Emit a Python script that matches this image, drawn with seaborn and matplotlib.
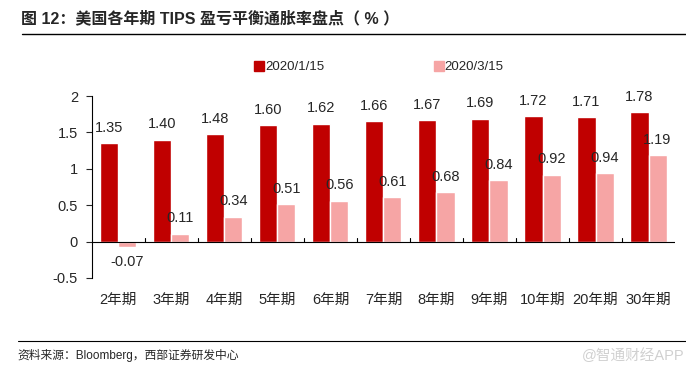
import pandas as pd
import seaborn as sns
import matplotlib.pyplot as plt
from matplotlib.lines import Line2D

# data
terms = ['2年期', '3年期', '4年期', '5年期', '6年期', '7年期', '8年期', '9年期', '10年期', '20年期', '30年期']
jan15 = [1.35, 1.40, 1.48, 1.60, 1.62, 1.66, 1.67, 1.69, 1.72, 1.71, 1.78]
mar15 = [-0.07, 0.11, 0.34, 0.51, 0.56, 0.61, 0.68, 0.84, 0.92, 0.94, 1.19]
series = ['2020/1/15', '2020/3/15']

df = pd.DataFrame({
    'term': terms * 2,
    'value': jan15 + mar15,
    'date': [series[0]] * len(terms) + [series[1]] * len(terms),
})

sns.set_style('white')
plt.rcParams['font.family'] = ['Liberation Sans', 'Noto Sans CJK SC', 'DejaVu Sans']
plt.rcParams['axes.unicode_minus'] = False

fig = plt.figure(figsize=(6.86, 3.77), dpi=100)
ax = fig.add_axes([0.134, 0.263, 0.850, 0.482])

sns.barplot(data=df, x='term', y='value', hue='date', order=terms,
            palette=['#C00000', '#F6A5A5'], width=0.68, saturation=1,
            ax=ax, legend=False)

ax.set_xlim(-0.5, len(terms) - 0.5)
ax.set_ylim(-0.5, 2)
ax.set_yticks([-0.5, 0, 0.5, 1, 1.5, 2])
ax.set_yticklabels(['-0.5', '0', '0.5', '1', '1.5', '2'])
ax.set_xlabel('')
ax.set_ylabel('')
for s in ['top', 'right', 'bottom']:
    ax.spines[s].set_visible(False)
ax.spines['left'].set_color('black')
ax.spines['left'].set_linewidth(0.8)
ax.axhline(0, color='black', lw=0.8)
ax.tick_params(axis='y', length=4, width=0.8, direction='out', left=True,
               labelsize=10.5, pad=6)
ax.tick_params(axis='x', length=0, labelsize=10.5, pad=11)
# small ticks on zero line between categories
for i in range(len(terms) - 1):
    ax.plot([i + 0.5, i + 0.5], [0, 0.05], color='black', lw=0.8)

for cont, vals in zip(ax.containers, [jan15, mar15]):
    labels = ['%.2f' % v for v in vals]
    ax.bar_label(cont, labels=labels, padding=6, fontsize=10.5)

handles = [Line2D([], [], marker='s', ls='', color=c, markersize=7)
           for c in ['#C00000', '#F6A5A5']]
fig.legend(handles, series, loc='center', bbox_to_anchor=(0.552, 0.822),
           ncol=2, frameon=False, fontsize=9.5, columnspacing=8.3,
           handletextpad=0.05, handlelength=0.8)

fig.text(0.03, 0.952, '图 12：美国各年期 TIPS 盈亏平衡通胀率盘点（ % ）',
         fontsize=11.5, fontweight='bold', va='center')
fig.add_artist(Line2D([0.032, 1.0], [0.91, 0.91], color='black', lw=1))
fig.add_artist(Line2D([0.026, 1.0], [0.096, 0.096], color='black', lw=0.8))
fig.text(0.026, 0.058, '资料来源：Bloomberg，西部证券研发中心', fontsize=8.5, va='center')
fig.text(0.998, 0.058, '@智通财经APP', fontsize=10.5, va='center', ha='right',
         color='#D0D0D0')

fig.savefig('out.png', dpi=100)
